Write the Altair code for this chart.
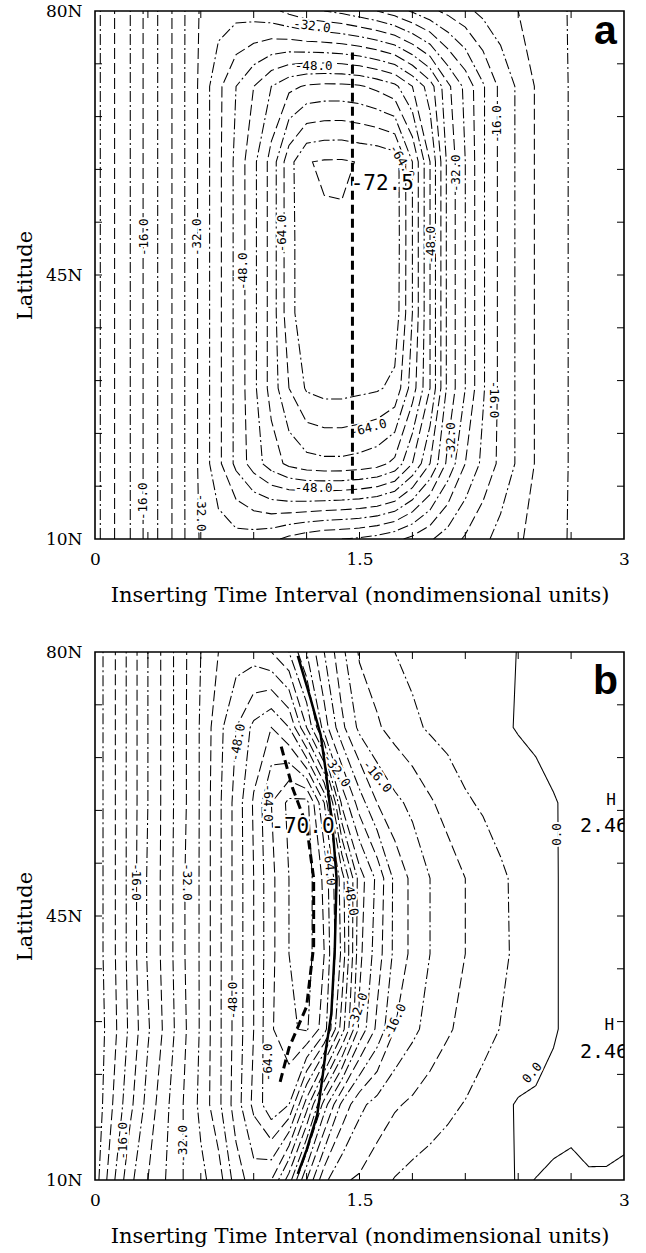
import altair as alt
import pandas as pd

# ---------------- grid of the two fields ----------------
GRID_X = [0.0, 0.1, 0.2, 0.3, 0.4, 0.5, 0.6, 0.7, 0.8, 0.9, 1.0, 1.1, 1.2, 1.3, 1.4, 1.5,
          1.6, 1.7, 1.8, 1.9, 2.0, 2.1, 2.2, 2.3, 2.4, 2.5, 2.6, 2.7, 2.8, 2.9, 3.0]
GRID_LAT = [10, 20, 30, 40, 50, 60, 70, 80]

# panel a
A_10 = [-2.5, -7.5, -12.0, -17.5, -22.0, -27.5, -32.5, -34.0, -34.5, -34.0, -33.0, -31.0, -29.5, -28.5, -28.0, -27.5,
        -26.5, -25.0, -23.0, -20.5, -18.0, -15.5, -13.0, -10.5, -8.5, -6.8, -5.0, -3.7, -2.5, -1.5, -0.5]
A_20 = [-2.5, -7.5, -12.0, -17.5, -22.0, -27.5, -33.0, -39.0, -45.0, -50.0, -54.0, -57.0, -58.5, -59.0, -59.0, -58.5,
        -57.5, -55.0, -48.0, -40.0, -31.0, -24.0, -19.0, -15.0, -11.3, -7.7, -5.5, -3.7, -2.5, -1.5, -0.5]
A_30 = [-2.5, -7.5, -12.0, -17.5, -22.0, -27.5, -33.0, -39.0, -45.0, -51.0, -57.5, -64.0, -68.5, -69.5, -69.5, -69.0,
        -68.5, -67.0, -58.0, -48.0, -35.0, -28.0, -20.5, -15.0, -11.3, -7.7, -5.5, -3.7, -2.5, -1.5, -0.5]
A_40 = [-2.5, -7.5, -12.0, -17.5, -22.0, -27.5, -33.0, -39.0, -45.0, -51.0, -57.5, -66.5, -71.0, -71.5, -71.5, -71.5,
        -71.5, -70.5, -60.0, -48.0, -35.0, -28.0, -20.5, -15.0, -11.3, -7.7, -5.5, -3.7, -2.5, -1.5, -0.5]
A_50 = [-2.5, -7.5, -12.0, -17.5, -22.0, -27.5, -33.0, -39.0, -45.0, -51.0, -57.5, -66.5, -71.0, -71.5, -71.5, -71.5,
        -71.5, -70.8, -60.0, -48.0, -35.0, -28.0, -20.5, -15.0, -11.3, -7.7, -5.5, -3.7, -2.5, -1.5, -0.5]
A_60 = [-2.5, -7.5, -12.0, -17.5, -22.0, -27.5, -33.0, -39.0, -45.0, -51.0, -57.5, -66.5, -71.8, -72.4, -72.5, -71.8,
        -71.5, -70.5, -60.0, -48.0, -35.0, -28.0, -20.5, -15.0, -11.3, -7.7, -5.5, -3.7, -2.5, -1.5, -0.5]
A_70 = [-2.5, -7.5, -12.0, -17.5, -22.0, -27.5, -33.0, -39.0, -44.0, -48.0, -52.0, -55.0, -56.5, -57.0, -57.0, -56.5,
        -55.0, -53.0, -48.0, -42.0, -33.0, -27.0, -20.5, -15.0, -11.3, -7.7, -5.5, -3.7, -2.5, -1.5, -0.5]
A_80 = [-2.5, -7.5, -12.0, -17.5, -22.0, -27.5, -32.5, -34.0, -34.5, -34.0, -33.0, -31.0, -29.0, -28.0, -27.0, -25.5,
        -24.0, -22.0, -19.5, -17.0, -15.0, -13.0, -11.0, -9.5, -8.0, -6.5, -5.0, -3.7, -2.5, -1.5, -0.5]

# panel b
B_10 = [-2.0, -11.0, -19.0, -24.0, -28.0, -32.0, -35.0, -38.0, -46.0, -50.0, -48.0, -38.0, -24.0, -13.0, -8.5, -7.5,
        -5.5, -3.8, -2.8, -2.2, -1.8, -1.4, -1.0, -0.6, 0.15, -0.02, -0.35, -0.9, -0.3, -0.35, -0.9]
B_20 = [-1.0, -8.0, -15.0, -21.5, -27.0, -32.0, -37.0, -43.0, -50.0, -57.0, -63.0, -60.0, -46.0, -30.0, -19.0, -13.0,
        -10.5, -8.5, -7.3, -6.0, -4.8, -3.8, -2.6, -0.8, 0.3, 0.6, 0.9, 1.2, 1.4, 1.6, 1.8]
B_30 = [-1.0, -6.5, -13.0, -19.5, -25.0, -31.0, -36.5, -43.0, -49.5, -56.0, -63.5, -67.5, -68.5, -62.0, -46.0, -31.0,
        -23.0, -16.0, -13.0, -10.5, -8.5, -6.8, -5.2, -3.9, -2.8, -1.8, -0.3, 0.8, 1.6, 2.2, 2.46]
B_40 = [-1.5, -7.0, -13.5, -20.5, -25.5, -31.5, -36.5, -43.0, -49.5, -56.0, -63.0, -68.0, -69.8, -64.0, -51.0, -33.0,
        -26.0, -19.0, -15.0, -12.0, -10.0, -8.0, -6.3, -4.6, -3.4, -2.1, -0.3, 0.8, 1.5, 2.0, 2.3]
B_50 = [-1.5, -7.0, -13.5, -20.5, -25.5, -31.5, -36.5, -43.0, -49.5, -56.0, -63.0, -68.0, -70.3, -63.0, -50.0, -34.0,
        -27.0, -19.0, -15.0, -12.0, -10.0, -8.0, -6.3, -4.6, -3.2, -2.0, -0.3, 0.8, 1.5, 2.0, 2.3]
B_60 = [-1.5, -7.0, -13.5, -20.0, -25.5, -31.0, -36.5, -43.0, -49.5, -56.5, -64.0, -69.0, -69.5, -56.0, -31.0, -22.0,
        -16.0, -13.0, -11.0, -8.5, -6.5, -4.5, -3.5, -2.5, -1.8, -1.1, -0.2, 0.6, 1.4, 2.0, 2.46]
B_70 = [-1.5, -7.0, -13.5, -20.0, -25.5, -31.0, -36.5, -42.5, -48.0, -53.0, -56.0, -52.0, -40.0, -26.0, -17.0, -11.0,
        -8.5, -6.5, -4.8, -3.5, -2.6, -1.8, -1.2, -0.5, 0.2, 0.7, 1.2, 1.5, 1.8, 2.0, 2.2]
B_80 = [-1.5, -7.0, -13.5, -20.0, -25.5, -31.0, -36.0, -40.0, -42.0, -42.0, -40.0, -36.0, -28.0, -20.0, -13.0, -7.5,
        -6.0, -4.0, -3.0, -2.3, -1.8, -1.3, -0.9, -0.4, 0.05, 0.5, 0.9, 1.2, 1.5, 1.8, 2.0]

A_ROWS = [A_10, A_20, A_30, A_40, A_50, A_60, A_70, A_80]
B_ROWS = [B_10, B_20, B_30, B_40, B_50, B_60, B_70, B_80]

LEVELS_A = [-4, -8, -12, -16, -20, -24, -28, -32, -36, -40, -44, -48, -52, -56, -60, -64, -68, -72]
LEVELS_B = [0, -4, -8, -12, -16, -20, -24, -28, -32, -36, -40, -44, -48, -52, -56, -60, -64, -68]

# thick lines
A_TROUGH_X = [1.46, 1.46]
A_TROUGH_LAT = [16.0, 74.5]
B_TROUGH_X = [1.05, 1.10, 1.20, 1.24, 1.24, 1.20, 1.12, 1.05]
B_TROUGH_LAT = [23.0, 27.5, 33.0, 41.0, 50.0, 57.0, 62.0, 68.0]
B_AXIS_X = [1.15, 1.20, 1.26, 1.29, 1.31, 1.34, 1.35, 1.36, 1.37, 1.35, 1.31, 1.28, 1.22, 1.15]
B_AXIS_LAT = [10.8, 14.0, 18.6, 23.6, 27.4, 32.0, 36.3, 40.7, 50.0, 56.0, 64.0, 69.0, 74.0, 79.5]

# ticks
TICK_LAT = [17, 24, 31, 38, 45, 52, 59, 66, 73]
TICK_X = [0.3, 0.6, 0.9, 1.2, 1.5, 1.8, 2.1, 2.4, 2.7]

# contour labels
A_LAB_TEXT = ["-16.0", "-32.0", "-48.0", "-64.0", "-32.0", "-48.0", "-64.0", "-48.0",
              "-32.0", "-16.0", "-16.0", "-32.0", "-64.0", "-48.0", "-16.0", "-32.0"]
A_LAB_X = [0.28, 0.58, 0.84, 1.06, 1.23, 1.24, 1.74, 1.905, 2.05, 2.28, 2.26, 2.02, 1.55, 1.24, 0.27, 0.60]
A_LAB_LAT = [50.0, 50.0, 45.5, 50.5, 78.0, 72.7, 60.0, 49.0, 58.5, 65.0, 28.5, 23.0, 24.7, 16.7, 15.0, 13.5]
A_LAB_ANGLE = [270, 270, 270, 270, 8, 0, 60, 270, 270, 270, 90, 270, 345, 0, 270, 90]

B_LAB_TEXT = ["-16.0", "-32.0", "-48.0", "-64.0", "-32.0", "-16.0", "-64.0", "-48.0",
              "-32.0", "-16.0", "-16.0", "-32.0", "-48.0", "-64.0", "0.0", "0.0"]
B_LAB_X = [0.23, 0.52, 0.81, 0.98, 1.37, 1.60, 1.33, 1.45, 1.49, 1.70, 0.16, 0.50, 0.78, 0.98, 2.62, 2.48]
B_LAB_LAT = [49.5, 49.5, 68.0, 60.0, 64.3, 63.5, 51.5, 47.5, 32.4, 31.0, 15.2, 14.8, 33.8, 25.6, 55.8, 24.2]
B_LAB_ANGLE = [90, 90, 280, 90, 55, 50, 85, 80, 290, 295, 270, 270, 270, 270, 270, 310]

A_MIN_TEXT, A_MIN_X, A_MIN_LAT = ["-72.5"], [1.45], [57.0]
B_MIN_TEXT, B_MIN_X, B_MIN_LAT = ["-70.0"], [1.0], [56.8]
B_H_TEXT = ["H", "H"]
B_H_X = [2.90, 2.89]
B_H_LAT = [60.4, 30.6]
B_HV_TEXT = ["2.46", "2.46"]
B_HV_X = [2.75, 2.75]
B_HV_LAT = [56.9, 27.0]

PANEL_TAG = ["a", "b"]
TAG_X = [2.895, 2.895]
TAG_LAT = [75.6, 74.4]

X_TITLE = "Inserting Time Interval (nondimensional units)"
Y_TITLE = "Latitude"


# ---------------- contouring (marching squares on the grid) ----------------
def contour(rows, level):
    nx, ny = len(GRID_X), len(GRID_LAT)
    lv = level + 1e-6

    def v(i, j):
        return rows[j][i] - lv

    cache = {}

    def pt(e):
        if e in cache:
            return cache[e]
        k, i, j = e
        if k == "h":
            a, b = v(i, j), v(i + 1, j)
            t = a / (a - b)
            p = (GRID_X[i] + t * (GRID_X[i + 1] - GRID_X[i]), GRID_LAT[j])
        else:
            a, b = v(i, j), v(i, j + 1)
            t = a / (a - b)
            p = (GRID_X[i], GRID_LAT[j] + t * (GRID_LAT[j + 1] - GRID_LAT[j]))
        cache[e] = p
        return p

    segs = []
    for j in range(ny - 1):
        for i in range(nx - 1):
            cs = [(i, j), (i + 1, j), (i + 1, j + 1), (i, j + 1)]
            vals = [v(a, b) for a, b in cs]
            up = [val > 0 for val in vals]
            es = [("h", i, j), ("v", i + 1, j), ("h", i, j + 1), ("v", i, j)]
            cr = [k for k in range(4) if up[k] != up[(k + 1) % 4]]
            if len(cr) == 2:
                segs.append((es[cr[0]], es[cr[1]]))
            elif len(cr) == 4:
                centre = sum(vals) / 4.0
                if (centre > 0) == up[0]:
                    segs.append((es[0], es[1]))
                    segs.append((es[2], es[3]))
                else:
                    segs.append((es[3], es[0]))
                    segs.append((es[1], es[2]))

    adj = {}
    for idx, (a, b) in enumerate(segs):
        adj.setdefault(a, []).append(idx)
        adj.setdefault(b, []).append(idx)
    used = [False] * len(segs)

    def walk(sidx, start):
        used[sidx] = True
        a, b = segs[sidx]
        path = [start]
        cur = b if a == start else a
        path.append(cur)
        while True:
            nxt = [s for s in adj[cur] if not used[s]]
            if not nxt:
                break
            s = nxt[0]
            used[s] = True
            a, b = segs[s]
            cur = b if a == cur else a
            path.append(cur)
        return [pt(e) for e in path]

    lines = []
    for e, lst in adj.items():
        if len(lst) == 1 and not used[lst[0]]:
            lines.append(walk(lst[0], e))
    for idx in range(len(segs)):
        if not used[idx]:
            lines.append(walk(idx, segs[idx][0]))
    return lines


def style_of(level):
    if level == 0:
        return "solid"
    return "dashdot" if (abs(level) // 4) % 2 == 1 else "dash"


def contour_frame(rows, levels):
    recs = []
    lid = 0
    for L in levels:
        for line in contour(rows, L):
            for k, (x, y) in enumerate(line):
                recs.append({"x": x, "lat": y, "lid": lid, "ord": k, "style": style_of(L)})
            lid += 1
    return pd.DataFrame(recs)


# ---------------- chart ----------------
W, H = 529, 528
XS = alt.Scale(domain=[0, 3], nice=False, zero=False)
YS = alt.Scale(domain=[10, 80], nice=False, zero=False)
SERIF = "DejaVu Serif"
MONO = "DejaVu Sans Mono"

XAX = alt.Axis(values=[0, 1.5, 3], labelExpr="toString(datum.value)", ticks=False, domain=False,
               grid=False, labelFlush=False, labelFont=SERIF, labelFontSize=17, labelColor="black",
               labelPadding=12, title=X_TITLE, titleFont=SERIF, titleFontSize=21,
               titleFontWeight="normal", titleColor="black", titlePadding=17)
YAX = alt.Axis(values=[10, 45, 80], labelExpr="datum.value + 'N'", ticks=False, domain=False,
               grid=False, labelFlush=False, labelFont=SERIF, labelFontSize=17, labelColor="black",
               labelPadding=13, title=Y_TITLE, titleFont=SERIF, titleFontSize=21,
               titleFontWeight="normal", titleColor="black", titlePadding=10)


def X():
    return alt.X("x:Q", scale=XS, axis=XAX)


def Y():
    return alt.Y("lat:Q", scale=YS, axis=YAX)


def path_frame(xs, lats):
    return pd.DataFrame({"x": xs, "lat": lats, "ord": list(range(len(xs)))})


def label_layers(texts, xs, lats, angles):
    df = pd.DataFrame({"x": xs, "lat": lats, "text": texts, "angle": angles})
    enc = dict(x=X(), y=Y(), text="text:N", angle=alt.Angle("angle:Q", scale=None))
    halo = alt.Chart(df).mark_text(font=MONO, fontSize=12.5, color="white", stroke="white",
                                   strokeWidth=4).encode(**enc)
    txt = alt.Chart(df).mark_text(font=MONO, fontSize=12.5, color="black").encode(**enc)
    return [halo, txt]


def panel(rows, levels, labels, min_lab, tag_idx, thick_dashed, thick_solid=None, hlabels=None):
    cdf = contour_frame(rows, levels)
    layers = []
    layers.append(
        alt.Chart(cdf).mark_line(color="black", strokeWidth=1.05, clip=True).encode(
            x=X(), y=Y(), detail="lid:N", order="ord:Q",
            strokeDash=alt.StrokeDash("style:N", legend=None,
                                      scale=alt.Scale(domain=["solid", "dash", "dashdot"],
                                                      range=[[1, 0], [11, 4], [11, 3, 2, 3]]))))
    layers += label_layers(*labels)
    layers.append(
        alt.Chart(path_frame(*thick_dashed)).mark_line(color="black", strokeWidth=3,
                                                       strokeDash=[9, 5]).encode(
            x=X(), y=Y(), order="ord:Q"))
    if thick_solid is not None:
        layers.append(
            alt.Chart(path_frame(*thick_solid)).mark_line(color="black", strokeWidth=2.5).encode(
                x=X(), y=Y(), order="ord:Q"))
    mt, mx, my = min_lab
    mdf = pd.DataFrame({"x": mx, "lat": my, "text": mt})
    layers.append(alt.Chart(mdf).mark_text(font=MONO, fontSize=21, align="left", color="white",
                                           stroke="white", strokeWidth=4).encode(x=X(), y=Y(), text="text:N"))
    layers.append(alt.Chart(mdf).mark_text(font=MONO, fontSize=21, align="left",
                                           color="black").encode(x=X(), y=Y(), text="text:N"))
    if hlabels is not None:
        ht, hx, hy, vt, vx, vy = hlabels
        hdf = pd.DataFrame({"x": hx, "lat": hy, "text": ht})
        vdf = pd.DataFrame({"x": vx, "lat": vy, "text": vt})
        layers.append(alt.Chart(hdf).mark_text(font=MONO, fontSize=16, align="left", clip=True,
                                               color="black").encode(x=X(), y=Y(), text="text:N"))
        layers.append(alt.Chart(vdf).mark_text(font=MONO, fontSize=20, align="left", clip=True,
                                               color="black").encode(x=X(), y=Y(), text="text:N"))
    tdf = pd.DataFrame({"x": [TAG_X[tag_idx]], "lat": [TAG_LAT[tag_idx]], "text": [PANEL_TAG[tag_idx]]})
    layers.append(alt.Chart(tdf).mark_text(font="Liberation Sans", fontSize=41, fontWeight="bold",
                                           align="center", baseline="alphabetic",
                                           color="black").encode(x=X(), y=Y(), text="text:N"))
    # inward ticks
    ly = pd.DataFrame({"lat": TICK_LAT})
    lx = pd.DataFrame({"x": TICK_X})
    layers.append(alt.Chart(ly).mark_rule(color="black", strokeWidth=1).encode(
        y=Y(), x=alt.value(0), x2=alt.value(7)))
    layers.append(alt.Chart(ly).mark_rule(color="black", strokeWidth=1).encode(
        y=Y(), x=alt.value(W - 7), x2=alt.value(W)))
    layers.append(alt.Chart(lx).mark_rule(color="black", strokeWidth=1).encode(
        x=X(), y=alt.value(H), y2=alt.value(H - 7)))
    layers.append(alt.Chart(lx).mark_rule(color="black", strokeWidth=1).encode(
        x=X(), y=alt.value(0), y2=alt.value(7)))
    return alt.layer(*layers).properties(width=W, height=H)


pa = panel(A_ROWS, LEVELS_A, (A_LAB_TEXT, A_LAB_X, A_LAB_LAT, A_LAB_ANGLE),
           (A_MIN_TEXT, A_MIN_X, A_MIN_LAT), 0, (A_TROUGH_X, A_TROUGH_LAT))
pb = panel(B_ROWS, LEVELS_B, (B_LAB_TEXT, B_LAB_X, B_LAB_LAT, B_LAB_ANGLE),
           (B_MIN_TEXT, B_MIN_X, B_MIN_LAT), 1, (B_TROUGH_X, B_TROUGH_LAT),
           (B_AXIS_X, B_AXIS_LAT), (B_H_TEXT, B_H_X, B_H_LAT, B_HV_TEXT, B_HV_X, B_HV_LAT))

chart = alt.vconcat(pa, pb, spacing=113, bounds="flush").configure_view(
    stroke="black", strokeWidth=1.6).properties(
    padding={"left": 13, "top": 1, "right": 5, "bottom": 5}, background="white")

chart.save("out.html", embed_options={"renderer": "svg", "actions": False})
